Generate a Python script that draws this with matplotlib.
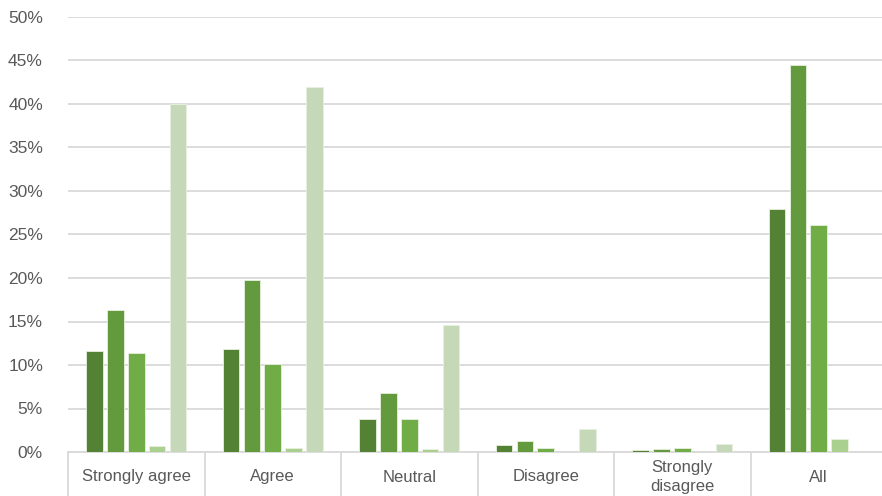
import matplotlib
matplotlib.use("Agg")
import matplotlib.pyplot as plt
import numpy as np

categories = ["Strongly agree", "Agree", "Neutral", "Disagree", "Strongly\ndisagree", "All"]
series_1 = [11.6, 11.8, 3.8, 0.8, 0.2, 27.9]
series_2 = [16.3, 19.8, 6.8, 1.3, 0.35, 44.5]
series_3 = [11.4, 10.1, 3.8, 0.5, 0.45, 26.1]
series_4 = [0.7, 0.45, 0.3, 0.0, 0.0, 1.5]
series_5 = [40.0, 42.0, 14.6, 2.7, 0.9, 0.0]
y_ticks = [0, 5, 10, 15, 20, 25, 30, 35, 40, 45, 50]

series = [series_1, series_2, series_3, series_4, series_5]
colors = ["#548235", "#649a3e", "#70ad47", "#a9d08e", "#c5d9b8"]

plt.rcParams["font.family"] = ["Liberation Sans", "DejaVu Sans"]

fig = plt.figure(figsize=(8.82, 4.96), dpi=100)
W, H = 882, 496
left, right, top, bottom = 68, 887, 17, 452
ax = fig.add_axes([left / W, 1 - bottom / H, (right - left) / W, (bottom - top) / H])

n = len(categories)
x = np.arange(n)
step = 0.153
bw = 0.122
for i, (vals, c) in enumerate(zip(series, colors)):
    ax.bar(x + (i - 2) * step, vals, width=bw, color=c, edgecolor="#e8f0e0",
           linewidth=0.6, zorder=3)

ax.set_xlim(-0.5, n - 0.5)
ax.set_ylim(0, 50)
ax.set_yticks(y_ticks)
ax.set_yticklabels([f"{v}%" for v in y_ticks], color="#595959", fontsize=12.5)
ax.tick_params(axis="y", length=0, pad=18)
ax.yaxis.grid(True, color="#d9d9d9", linewidth=1.3, zorder=0)
for s in ["top", "right", "left"]:
    ax.spines[s].set_visible(False)
ax.spines["bottom"].set_color("#d9d9d9")
ax.spines["bottom"].set_linewidth(1.3)
ax.set_xticks([])

# category boxes below the axis
trans = ax.get_xaxis_transform()
box_depth = (H - bottom) / (bottom - top)
for b in np.arange(-0.5, n, 1.0):
    ax.plot([b, b], [0, -box_depth], transform=trans, color="#d9d9d9",
            linewidth=1.3, clip_on=False)
for xi, lab in zip(x, categories):
    yoff = -25 / (bottom - top)
    ax.text(xi, yoff, lab, transform=trans, ha="center", va="center",
            color="#595959", fontsize=12, linespacing=1.3, clip_on=False)

fig.savefig("out.png", dpi=100)
